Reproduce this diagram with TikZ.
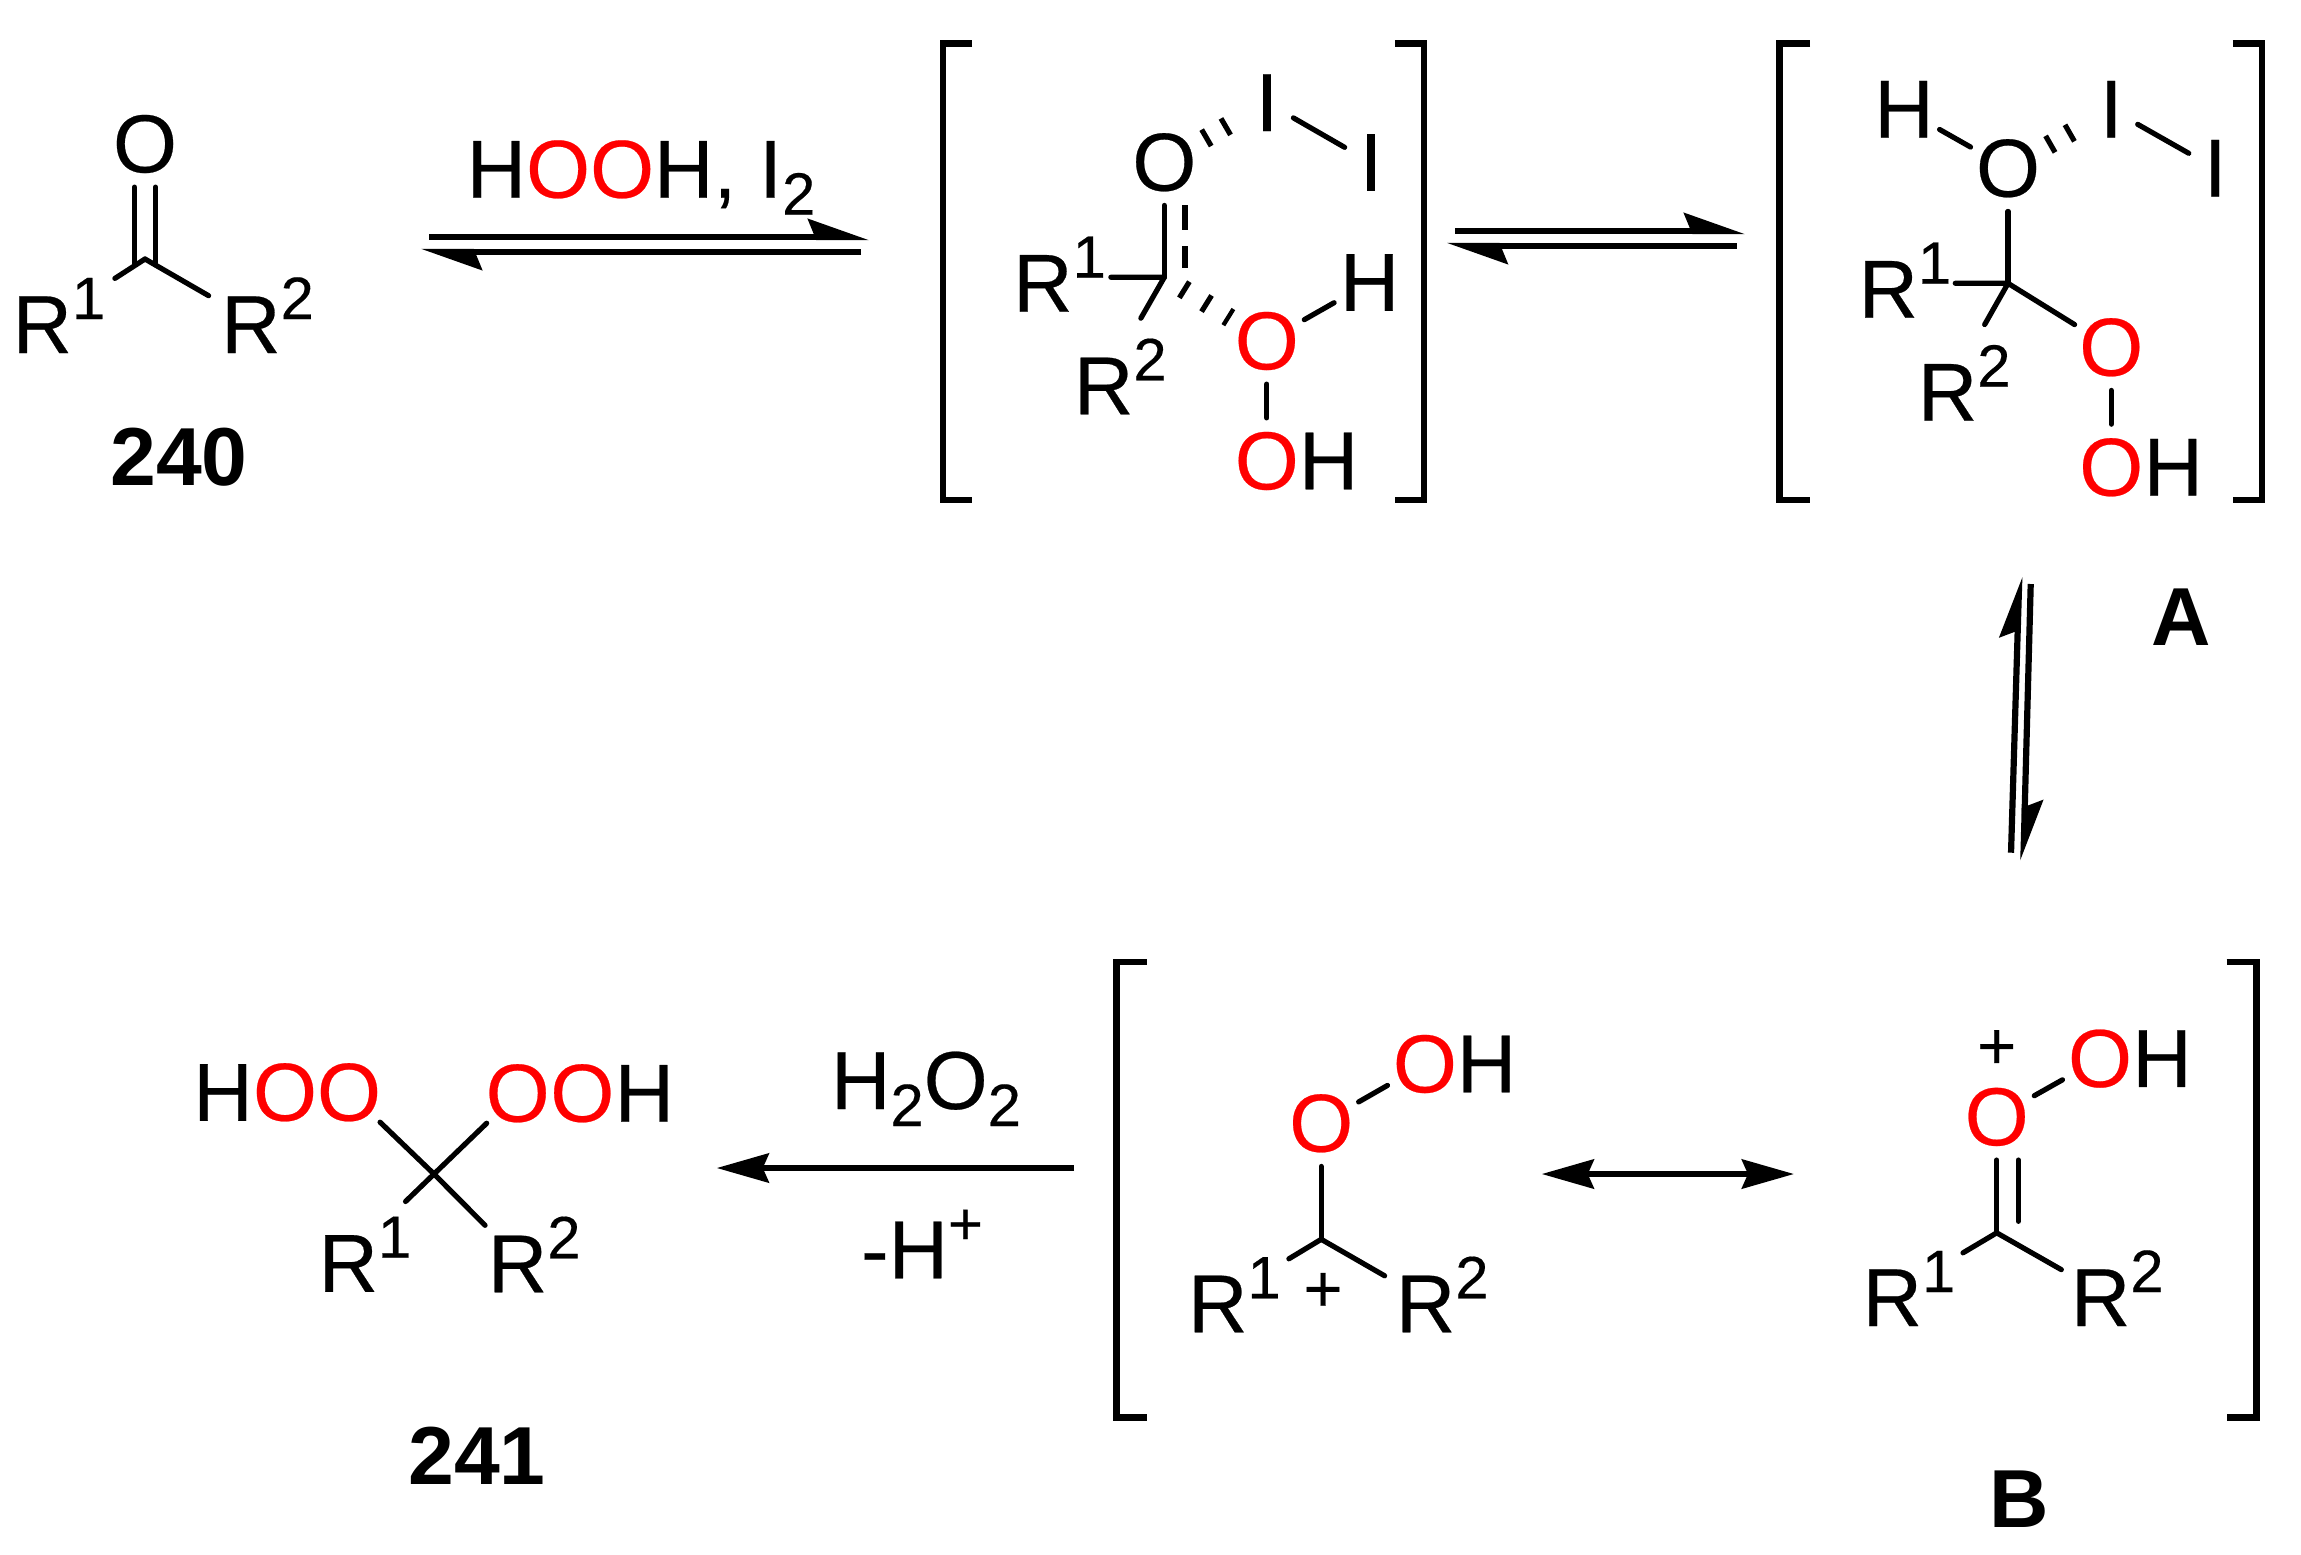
\documentclass[tikz,border=0pt]{standalone}
\usepackage{fontspec}
\setmainfont{Liberation Sans}[FakeBold=0.3]
\newfontfamily\labelfont{Liberation Sans Bold}
\usetikzlibrary{arrows.meta}

\newcommand{\atomfont}{\fontsize{23.4pt}{28pt}\selectfont}
\newcommand{\rsup}[1]{\raisebox{0.34cm}{\fontsize{17pt}{17pt}\selectfont #1}}
\newcommand{\rsub}[1]{\raisebox{-0.17cm}{\fontsize{17pt}{17pt}\selectfont #1}}

\tikzset{
    atom/.style={circle, inner sep=0pt, outer sep=0pt, minimum size=0.8cm, font=\atomfont},
    redatom/.style={atom, text=red},
    iodine/.style={atom, minimum size=0.52cm},
    rlabel/.style={inner sep=0pt, outer sep=0pt, text height=0.77cm, text depth=0pt, font=\atomfont},
    reagent/.style={anchor=base, inner sep=0pt, font=\atomfont},
    charge/.style={inner sep=0pt, font=\fontsize{19pt}{19pt}\selectfont},
    compound/.style={inner sep=0pt, font=\fontsize{23.4pt}{28pt}\labelfont},
    bond/.style={line width=0.052cm, line cap=round},
    hashbond/.style={line width=0.19cm, dash pattern=on 0.052cm off 0.171cm},
    brace/.style={line width=0.068cm, line join=miter},
    reaction/.style={line width=0.062cm, -{Stealth[length=0.52cm, width=0.29cm, inset=0.06cm]}},
    resonance/.style={line width=0.062cm, {Stealth[length=0.52cm, width=0.29cm, inset=0.06cm]}-{Stealth[length=0.52cm, width=0.29cm, inset=0.06cm]}},
    harpoonarrow/.style={line width=0.062cm, -{Stealth[harpoon, length=0.52cm, width=0.36cm, inset=0.07cm]}}
}

\begin{document}
\begin{tikzpicture}[x=0.01cm, y=-0.01cm]
    \useasboundingbox (0,0) rectangle (2301,1554);

    % Draw ketone 240
    \coordinate (c1) at (145,259);
    \node[atom] (o1) at (145,144) {O};
    \node[rlabel] (r11) at (58.9,314.5) {R\rsup{1}};
    \node[rlabel] (r12) at (267.5,314.5) {R\rsup{2}};
    \node[compound] (n240) at (179,457) {240};

    \draw[bond, shorten >=0.115cm] (c1) -- (r11);
    \draw[bond, shorten >=0.145cm] (c1) -- (r12.166);
    \draw[bond] ([xshift=-0.105cm]o1.south) -- ([xshift=-0.105cm, yshift=-0.06cm]c1);
    \draw[bond] ([xshift=0.105cm]o1.south) -- ([xshift=0.105cm, yshift=-0.06cm]c1);

    % Draw the first intermediate
    \coordinate (c2) at (1164.3,277.3);
    \node[atom] (o2) at (1164.3,162.3) {O};
    \node[iodine] (i21) at (1267,102.7) {I};
    \node[iodine] (i22) at (1371,162.5) {I};
    \node[redatom] (o21) at (1266.8,341) {O};
    \node[redatom] (o22) at (1266.8,461) {O};
    \node[atom] (h21) at (1369.6,282.5) {H};
    \node[atom] (h22) at (1328.6,461) {H};
    \node[rlabel] (r21) at (1059.5,273.2) {R\rsup{1}};
    \node[rlabel] (r22) at (1120.3,375.8) {R\rsup{2}};

    \draw[bond] (c2) -- (o2);
    \draw[bond, dash pattern=on 0.25cm off 0.16cm, line cap=butt] ([xshift=0.207cm]o2.south) -- ([xshift=0.207cm, yshift=0.09cm]c2);
    \draw[bond, shorten >=0.05cm] (c2) -- (r21.-5);
    \draw[bond, shorten >=0.22cm] (c2) -- (r22.76);
    \draw[hashbond, shorten <=0.21cm, dash pattern=on 0.052cm off 0.209cm] (c2) -- (o21);
    \draw[hashbond, shorten <=0.03cm] (o2) -- (i21);
    \draw[bond] (i21) -- (i22);
    \draw[bond] (o21) -- (h21);
    \draw[bond] (o21) -- (o22);

    \draw[brace] (972,43.3) -- (942.9,43.3) -- (942.9,500) -- (972,500);
    \draw[brace] (1395,43.3) -- (1424,43.3) -- (1424,500) -- (1395,500);

    % Draw intermediate A
    \coordinate (c3) at (2008,283.3);
    \node[atom] (o3) at (2008,168.3) {O};
    \node[atom] (h31) at (1904,109.3) {H};
    \node[iodine] (i31) at (2111.2,109.3) {I};
    \node[iodine] (i32) at (2215.2,168.3) {I};
    \node[redatom] (o31) at (2111.2,347.3) {O};
    \node[redatom] (o32) at (2111.2,467.3) {O};
    \node[atom] (h32) at (2173.2,467.3) {H};
    \node[rlabel] (r31) at (1904.9,279.2) {R\rsup{1}};
    \node[rlabel] (r32) at (1964.2,382.2) {R\rsup{2}};
    \node[compound] (na) at (2181,617) {A};

    \draw[bond] (c3) -- (o3);
    \draw[bond] (o3) -- (h31);
    \draw[hashbond, shorten <=0.03cm] (o3) -- (i31);
    \draw[bond] (i31) -- (i32);
    \draw[bond, shorten >=0.04cm] (c3) -- (r31.-5);
    \draw[bond, shorten >=0.22cm] (c3) -- (r32.76);
    \draw[bond] (c3) -- (o31);
    \draw[bond] (o31) -- (o32);

    \draw[brace] (1810,43.3) -- (1779.6,43.3) -- (1779.6,500) -- (1810,500);
    \draw[brace] (2232.8,43.3) -- (2262,43.3) -- (2262,500) -- (2232.8,500);

    % Draw intermediate B and its carbocation form
    \coordinate (c4) at (1996.7,1232.8);
    \node[redatom] (o4) at (1996.7,1116.9) {O};
    \node[charge] (p4) at (1996.7,1049.5) {+};
    \node[redatom] (o41) at (2100,1058.6) {O};
    \node[atom] (h41) at (2162,1058.6) {H};
    \node[rlabel] (r41) at (1908.9,1287.5) {R\rsup{1}};
    \node[rlabel] (r42) at (2117.2,1287.5) {R\rsup{2}};
    \node[compound] (nb) at (2019,1499) {B};

    \draw[bond] (c4) -- (o4);
    \draw[bond] ([xshift=0.216cm]o4.south) -- ([xshift=0.216cm, yshift=0.115cm]c4);
    \draw[bond] (o4) -- (o41);
    \draw[bond, shorten >=0.09cm] (c4) -- (r41.33);
    \draw[bond, shorten >=0.11cm] (c4) -- (r42.165);

    \coordinate (c5) at (1321.2,1239.3);
    \node[redatom] (o5) at (1321.2,1123.3) {O};
    \node[redatom] (o51) at (1424.9,1064) {O};
    \node[atom] (h51) at (1486.5,1064) {H};
    \node[charge] (p5) at (1323,1292.3) {+};
    \node[rlabel] (r51) at (1234.4,1293.8) {R\rsup{1}};
    \node[rlabel] (r52) at (1442.2,1293.8) {R\rsup{2}};

    \draw[bond] (c5) -- (o5);
    \draw[bond] (o5) -- (o51);
    \draw[bond, shorten >=0.095cm] (c5) -- (r51.33);
    \draw[bond, shorten >=0.13cm] (c5) -- (r52.166);

    \draw[brace] (1146.7,962) -- (1116.8,962) -- (1116.8,1417.5) -- (1146.7,1417.5);
    \draw[brace] (2226.7,962) -- (2256.7,962) -- (2256.7,1417.5) -- (2226.7,1417.5);

    % Draw product 241
    \coordinate (c6) at (434,1174);
    \node[atom] (h61) at (223,1092.5) {H};
    \node[redatom] (o61) at (285,1092.3) {O};
    \node[redatom] (o62) at (349,1092.3) {O};
    \node[redatom] (o63) at (517.7,1093.3) {O};
    \node[redatom] (o64) at (582.3,1093.3) {O};
    \node[atom] (h62) at (644.3,1093.3) {H};
    \node[rlabel] (r61) at (364.9,1253.2) {R\rsup{1}};
    \node[rlabel] (r62) at (534.2,1253.8) {R\rsup{2}};
    \node[compound] (n241) at (477,1456) {241};

    \draw[bond] (c6) -- (o62);
    \draw[bond] (c6) -- (o63);
    \draw[bond, shorten >=0.19cm] (c6) -- (r61.55);
    \draw[bond, shorten >=0.04cm] (c6) -- (r62.151);

    % Draw the reagents
    \node[reagent] (reag1) at (641,197.7) {H\textcolor{red}{OO}H, I\rsub{2}};
    \node[reagent] (reag2) at (926,1109) {H\rsub{2}O\rsub{2}};
    \node[reagent] (reag3) at (922,1278.3) {-H\rsup{+}};

    % Draw the equilibrium arrows
    \coordinate (e1a) at (429,237);
    \coordinate (e1b) at (869,237);
    \coordinate (e1c) at (861,252);
    \coordinate (e1d) at (421,252);
    \draw[harpoonarrow] (e1a) -- (e1b);
    \draw[harpoonarrow] (e1c) -- (e1d);

    \coordinate (e2a) at (1455,231);
    \coordinate (e2b) at (1745,231);
    \coordinate (e2c) at (1736.7,246);
    \coordinate (e2d) at (1446.7,246);
    \draw[harpoonarrow] (e2a) -- (e2b);
    \draw[harpoonarrow] (e2c) -- (e2d);

    \coordinate (e3a) at (2011,852.7);
    \coordinate (e3b) at (2019.3,576.7);
    \coordinate (e3c) at (2030.7,584);
    \coordinate (e3d) at (2023.3,860.7);
    \draw[harpoonarrow] (e3a) -- (e3b);
    \draw[harpoonarrow] (e3c) -- (e3d);

    % Draw the other arrows
    \coordinate (e4a) at (1541.7,1174);
    \coordinate (e4b) at (1794,1174);
    \draw[resonance] (e4a) -- (e4b);

    \coordinate (e5a) at (1074,1168);
    \coordinate (e5b) at (716.7,1168);
    \draw[reaction] (e5a) -- (e5b);
\end{tikzpicture}
\end{document}
